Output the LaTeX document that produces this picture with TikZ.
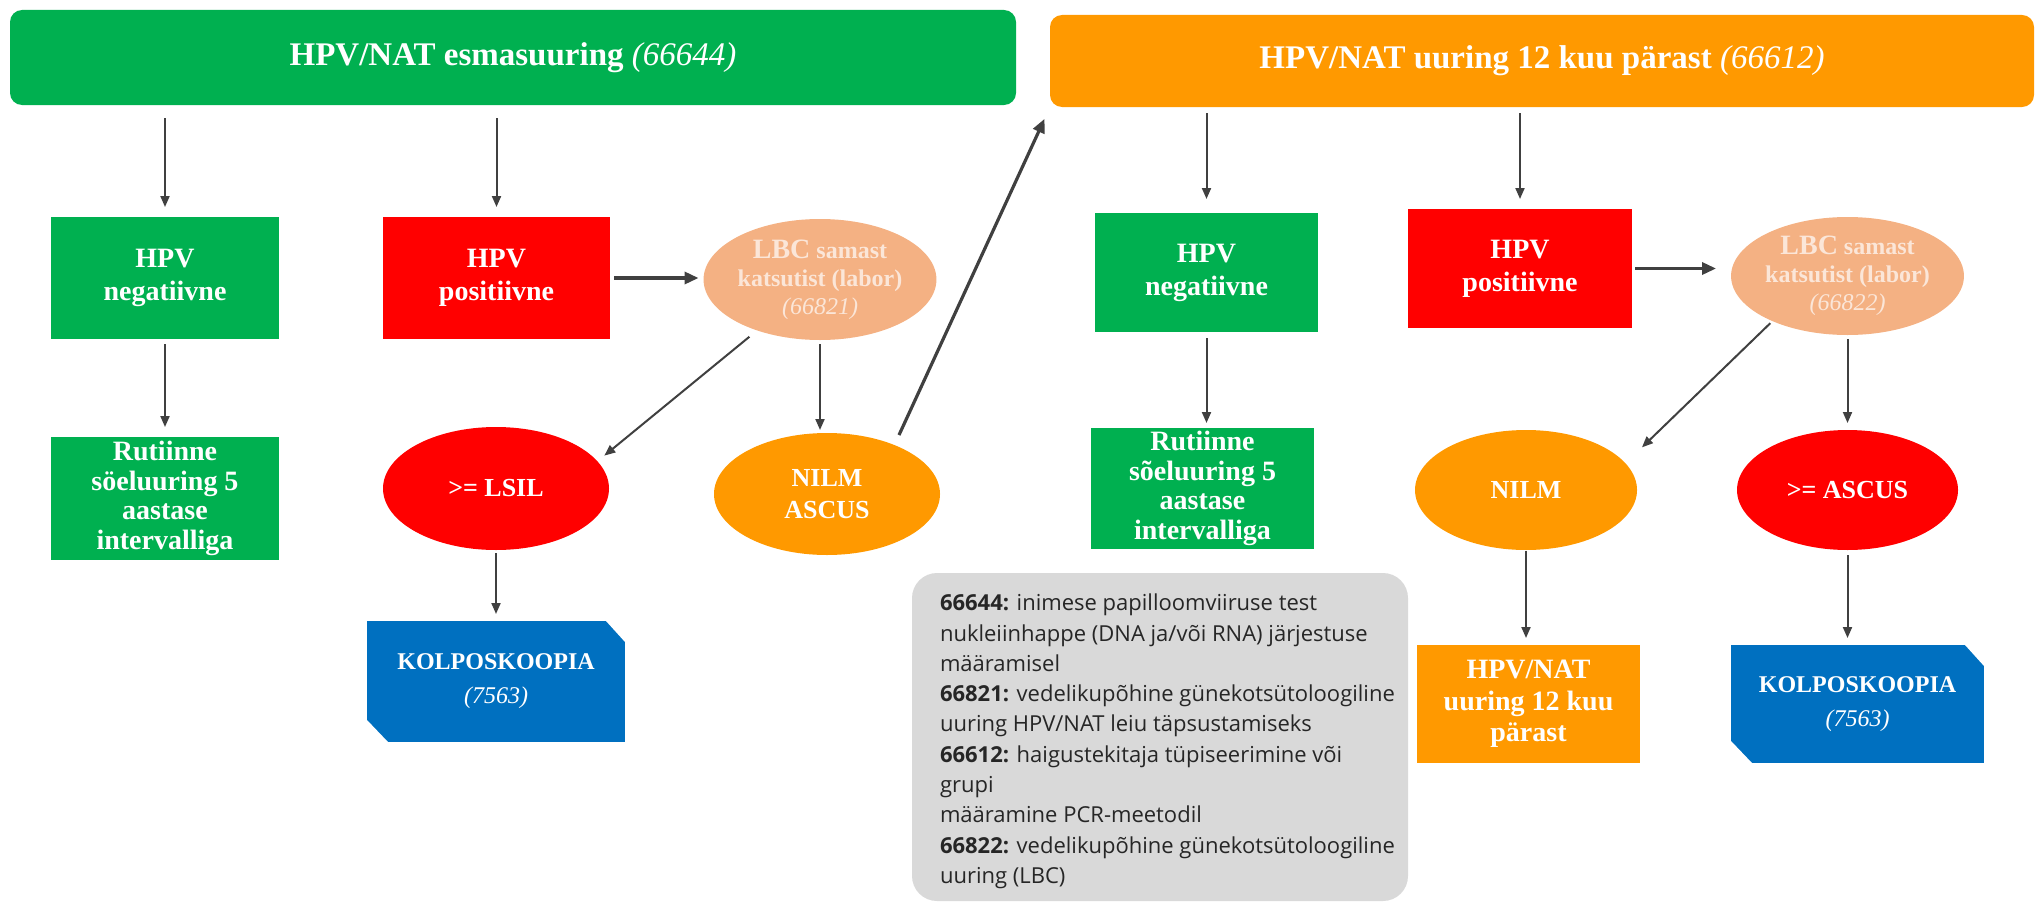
\documentclass[tikz,border=0pt]{standalone}
\usepackage{fontspec}
\setmainfont{Liberation Serif}
\newfontfamily\osans{Open Sans}
\usetikzlibrary{arrows.meta,shapes.geometric}
\definecolor{cgreen}{HTML}{00B050}
\definecolor{corange}{HTML}{FF9900}
\definecolor{cred}{HTML}{FF0000}
\definecolor{cblue}{HTML}{0070C0}
\definecolor{csalmon}{HTML}{F4B183}
\definecolor{cgray}{HTML}{D9D9D9}
\definecolor{carrow}{HTML}{404040}
\definecolor{clbctext}{HTML}{FBE6D8}
\definecolor{cnote}{HTML}{262626}
\newcommand{\num}[1]{{\mdseries\itshape #1}}
\begin{document}
\begin{tikzpicture}[x=1pt,y=-1pt,
  every node/.style={inner sep=0pt, outer sep=0pt, align=center, text=white},
  hdr/.style={rectangle, rounded corners=12pt, font=\bfseries\fontsize{33}{38}\selectfont},
  box/.style={rectangle, font=\bfseries\fontsize{28}{33}\selectfont},
  ell/.style={ellipse, font=\bfseries\fontsize{26}{32}\selectfont},
  lbc/.style={ellipse, fill=csalmon, text=clbctext, font=\bfseries\fontsize{24}{28}\selectfont},
  kolbox/.style={rectangle, fill=cblue, font=\bfseries\fontsize{24}{34}\selectfont,
    path picture={
      \fill[white] (path picture bounding box.north east) -- ++(-19pt,0pt) -- ++(19pt,-21pt) -- cycle;
      \fill[white] (path picture bounding box.south west) -- ++(21pt,0pt) -- ++(-21pt,22pt) -- cycle;}},
  arr/.style={draw=carrow, line width=2pt, -{Triangle[length=11pt,width=9pt]}},
  arrthick/.style={draw=carrow, line width=3.2pt, -{Triangle[length=14pt,width=12pt]}}
]
\useasboundingbox (0,0) rectangle (2036,907);

% headers
\node[hdr, fill=cgreen, minimum width=1006pt, minimum height=95pt] (hdrL) at (513,57.5)
  {HPV/NAT esmasuuring \num{(66644)}};
\node[hdr, fill=corange, minimum width=984pt, minimum height=92pt] (hdrR) at (1542,61)
  {HPV/NAT uuring 12 kuu pärast \num{(66612)}};

% left part
\node[box, fill=cgreen, minimum width=228pt, minimum height=122pt] (negL) at (165,278) {HPV\\negatiivne};
\node[box, fill=cred, minimum width=227pt, minimum height=122pt] (posL) at (496.5,278) {HPV\\positiivne};
\node[lbc, minimum width=228pt, minimum height=121pt] (lbcL) at (820,279.5)
  {{\fontsize{28}{28}\selectfont LBC} samast\\katsutist (labor)\\\num{(66821)}};
\node[ell, fill=cred, minimum width=226pt, minimum height=123pt] (lsil) at (496,488.5) {>= LSIL};
\node[ell, fill=corange, minimum width=226pt, minimum height=122pt] (nilmL) at (827,494) {NILM\\ASCUS};
\node[box, fill=cgreen, minimum width=228pt, minimum height=123pt, font=\bfseries\fontsize{28}{29.5}\selectfont] (rutL) at (165,498.5)
  {Rutiinne\\söeluuring 5\\aastase\\intervalliga};
\node[kolbox, minimum width=258pt, minimum height=121pt] (kolL) at (496,681.5) {KOLPOSKOOPIA\\\num{(7563)}};

% note box
\node[rectangle, rounded corners=25pt, fill=cgray, minimum width=496pt, minimum height=328pt] (note) at (1160,737) {};
\node[anchor=north west, align=left, text=cnote, font=\osans\fontsize{22}{30.3}\selectfont] (notetxt) at (940,594)
  {\textbf{66644:} inimese papilloomviiruse test\\
   nukleiinhappe (DNA ja/või RNA) järjestuse\\
   määramisel\\
   \textbf{66821:} vedelikupõhine günekotsütoloogiline\\
   uuring HPV/NAT leiu täpsustamiseks\\
   \textbf{66612:} haigustekitaja tüpiseerimine või\\
   grupi\\
   määramine PCR-meetodil\\
   \textbf{66822:} vedelikupõhine günekotsütoloogiline\\
   uuring (LBC)};

% right part
\node[box, fill=cgreen, minimum width=223pt, minimum height=119pt] (negR) at (1206.5,272.5) {HPV\\negatiivne};
\node[box, fill=cred, minimum width=224pt, minimum height=119pt] (posR) at (1520,268.5) {HPV\\positiivne};
\node[lbc, minimum width=221pt, minimum height=118pt] (lbcR) at (1847.5,276)
  {{\fontsize{28}{28}\selectfont LBC} samast\\katsutist (labor)\\\num{(66822)}};
\node[box, fill=cgreen, minimum width=223pt, minimum height=121pt, font=\bfseries\fontsize{28}{29.5}\selectfont] (rutR) at (1202.5,488.5)
  {Rutiinne\\sõeluuring 5\\aastase\\intervalliga};
\node[ell, fill=corange, minimum width=222pt, minimum height=120pt] (nilmR) at (1526,490) {NILM};
\node[ell, fill=cred, minimum width=221pt, minimum height=120pt] (ascR) at (1847.5,490) {>= ASCUS};
\node[box, fill=corange, minimum width=223pt, minimum height=118pt, font=\bfseries\fontsize{28}{31.5}\selectfont] (nat12) at (1528.5,704)
  {HPV/NAT\\uuring 12 kuu\\pärast};
\node[kolbox, minimum width=253pt, minimum height=118pt] (kolR) at (1857.5,704) {KOLPOSKOOPIA\\\num{(7563)}};

% connectors left
\draw[arr, shorten <=13pt, shorten >=10pt] (hdrL.south -| negL.north) -- (negL.north);
\draw[arr, shorten <=13pt, shorten >=10pt] (hdrL.south -| posL.north) -- (posL.north);
\draw[arr, shorten <=5pt, shorten >=10pt] (negL.south) -- (rutL.north);
\draw[arrthick, shorten <=4pt, shorten >=5pt] (posL.east) -- (lbcL.west |- posL.east);
\draw[arr, shorten <=4pt, shorten >=3pt] (lbcL.south) -- (lbcL.south |- nilmL.north);
\draw[arr, shorten <=10pt, shorten >=9pt] (lbcL.219) -- (lsil.15);
\draw[arr, shorten <=3pt, shorten >=7pt] (lsil.south) -- (lsil.south |- kolL.north);
\draw[arrthick, shorten <=11pt, shorten >=13pt] (nilmL.36) -- (hdrR.south west);

% connectors right
\draw[arr, shorten <=6pt, shorten >=14pt] (hdrR.south -| negR.north) -- (negR.north);
\draw[arr, shorten <=6pt, shorten >=10pt] (hdrR.south -| posR.north) -- (posR.north);
\draw[arr, shorten <=6pt, shorten >=5pt] (negR.south) -- (negR.south |- rutR.north);
\draw[arrthick, shorten <=3pt, shorten >=15pt] (posR.east) -- (lbcR.west |- posR.east);
\draw[arr, shorten <=4pt, shorten >=7pt] (lbcR.south) -- (lbcR.south |- ascR.north);
\draw[arr, shorten <=3pt, shorten >=23pt] (lbcR.211) -- (nilmR.15);
\draw[arr, shorten <=1pt, shorten >=7pt] (nilmR.south) -- (nilmR.south |- nat12.north);
\draw[arr, shorten <=5pt, shorten >=7pt] (ascR.south) -- (ascR.south |- kolR.north);
\end{tikzpicture}
\end{document}
